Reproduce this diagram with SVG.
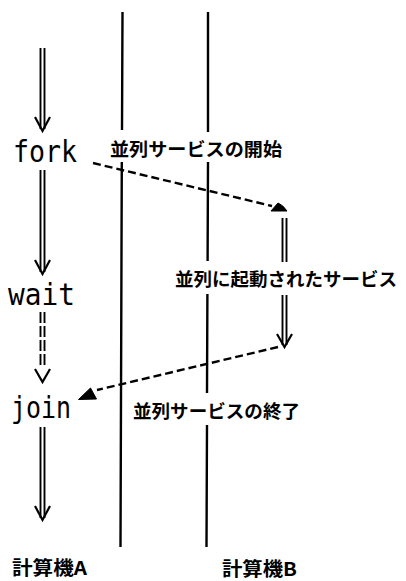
<svg xmlns="http://www.w3.org/2000/svg" width="406" height="581" viewBox="0 0 406 581">
<style>
.bg{fill:#fff}
.life{stroke:#000;stroke-width:2.4;fill:none}
.dbl{stroke:#000;stroke-width:1.9;fill:none}
.dbld{stroke:#000;stroke-width:1.9;fill:none;stroke-dasharray:11 3}
.head{stroke:#000;stroke-width:2.2;fill:none;stroke-linejoin:miter}
.msg{stroke:#000;stroke-width:2.4;fill:none;stroke-dasharray:8 4}
.tri{fill:#000;stroke:#000;stroke-width:1;stroke-linejoin:round}
.lat{font-family:"DejaVu Sans Mono","Liberation Mono",monospace;font-size:31px;fill:#000}
.jp{font-family:"Noto Sans CJK JP",sans-serif;font-weight:bold;font-size:18.5px;fill:#000}
</style>
<rect class="bg" width="406" height="581"/>
<g id="lifelines">
<path class="life" d="M122.5,12 L122,130 M121.8,162 L120.5,547"/>
<path class="life" d="M208,12 V132 M208,162 L207.6,261 M207.4,294 L207,393 M207,425 L206.5,547"/>
</g>
<g id="connectors">
<g id="flowA1"><path class="dbl" d="M40.5,48 V129 M44.5,48 V129"/><path class="head" d="M35,117 L42.5,131 L50,117"/></g>
<g id="flowA2"><path class="dbl" d="M40.5,170 V272 M44.5,170 V272"/><path class="head" d="M35,260 L42.5,274 L50,260"/></g>
<g id="flowA3"><path class="dbld" d="M40.5,312 V368 M44.5,312 V368"/><path class="head" d="M35,369 L42.5,382 L50,369"/></g>
<g id="flowA4"><path class="dbl" d="M40.5,427 V518 M44.5,427 V518"/><path class="head" d="M35,506 L42.5,520 L50,506"/></g>
<g id="flowB"><path class="dbl" d="M282.5,218 V262 M286.5,218 V262 M282.5,295 V345 M286.5,295 V345"/><path class="head" d="M277,334 L284.5,347 L292,334"/></g>
<g id="forkMsg"><path class="msg" d="M93,163 L272,206"/><path class="tri" d="M271,211 L278,203 Q283,205 287,211 Z"/></g>
<g id="joinMsg"><path class="msg" d="M278,347 L97,390"/><path class="tri" d="M78.5,399.5 L90.5,388 L96.5,399 Z"/></g>
</g>
<g id="fork"><text class="lat" x="13" y="162" textLength="64" lengthAdjust="spacingAndGlyphs">fork</text></g>
<g id="wait"><text class="lat" x="8" y="305" textLength="67" lengthAdjust="spacingAndGlyphs">wait</text></g>
<g id="join"><text class="lat" x="11" y="418" textLength="60" lengthAdjust="spacingAndGlyphs">join</text></g>
<g id="label-start"><text class="jp" x="110" y="156" font-size="19" textLength="172" lengthAdjust="spacingAndGlyphs">並列サービスの開始</text></g>
<g id="label-service"><text class="jp" x="175" y="286" textLength="222" lengthAdjust="spacingAndGlyphs">並列に起動されたサービス</text></g>
<g id="label-end"><text class="jp" x="133" y="418" textLength="167" lengthAdjust="spacingAndGlyphs">並列サービスの終了</text></g>
<g id="machineA"><text class="jp" x="12" y="575" style="font-size:19px" textLength="75" lengthAdjust="spacingAndGlyphs">計算機A</text></g>
<g id="machineB"><text class="jp" x="222" y="576" style="font-size:19px" textLength="75" lengthAdjust="spacingAndGlyphs">計算機B</text></g>
</svg>
